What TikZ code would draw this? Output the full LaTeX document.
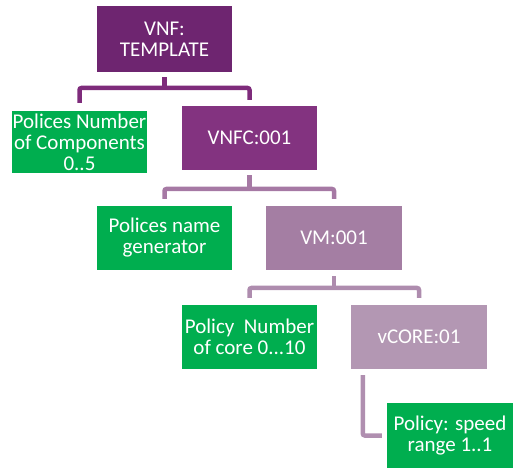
\documentclass[tikz,border=0pt]{standalone}
\usepackage{fontspec}
\setmainfont{Carlito}
\begin{document}
\begin{tikzpicture}[x=1pt,y=-1pt,
  box/.style={rectangle, inner sep=0pt, text=white, align=center,
    font=\fontsize{21}{21}\selectfont},
  policy/.style={box, fill=polgreen},
  conn/.style={line width=4.5pt, rounded corners=2pt}]
\definecolor{polgreen}{HTML}{00AE4F}
\definecolor{vnfcol}{HTML}{6E2570}
\definecolor{vnfccol}{HTML}{833380}
\definecolor{vmcol}{HTML}{A47EA3}
\definecolor{vcorecol}{HTML}{B397B3}
\definecolor{linea}{HTML}{7E2B7B}
\definecolor{lineb}{HTML}{A679A4}
\definecolor{linec}{HTML}{AE8CAE}
\definecolor{lined}{HTML}{B08FB0}

\useasboundingbox (0,0) rectangle (514,470);

% boxes
\node[box, fill=vnfcol, minimum width=135, minimum height=66] (vnf) at (164.5,39) {VNF:\\TEMPLATE};
\node[policy, minimum width=135, minimum height=62] (pol1) at (79.5,142) {Polices Number\\of Components\\0..5};
\node[box, fill=vnfccol, minimum width=135, minimum height=64] (vnfc) at (249.5,138) {VNFC:001};
\node[policy, minimum width=135, minimum height=64] (pol2) at (164.5,238) {Polices name\\generator};
\node[box, fill=vmcol, minimum width=136, minimum height=64] (vm) at (334,238) {VM:001};
\node[policy, minimum width=135, minimum height=64] (pol3) at (249.5,337) {Policy~ Number\\of core 0...10};
\node[box, fill=vcorecol, minimum width=136, minimum height=64] (vcore) at (419,337) {vCORE:01};
\node[policy, minimum width=126, minimum height=65] (pol4) at (450,435.5) {Policy: speed\\range 1..1};

% junction points of the branch lines
\coordinate (j1) at (164.5,88);
\coordinate (j2) at (249.5,189);
\coordinate (j3) at (334,288);

% connectors
\draw[conn, linea, shorten <=5pt] (vnf.south) -- (j1);
\draw[conn, linea, shorten <=8pt, shorten >=6pt] (pol1.north) |- (j1) -| (vnfc.north);

\draw[conn, lineb, shorten <=5pt] (vnfc.south) -- (j2);
\draw[conn, lineb, shorten <=7pt, shorten >=7pt] (pol2.north) |- (j2) -| (vm.north);

\draw[conn, linec, shorten <=6pt] (vm.south) -- (j3);
\draw[conn, linec, shorten <=7pt, shorten >=7pt] (pol3.north) |- (j3) -| (vcore.north);

\draw[conn, lined, shorten <=6pt, shorten >=5pt] ([xshift=12pt]vcore.south west) |- (pol4.west);
\end{tikzpicture}
\end{document}
